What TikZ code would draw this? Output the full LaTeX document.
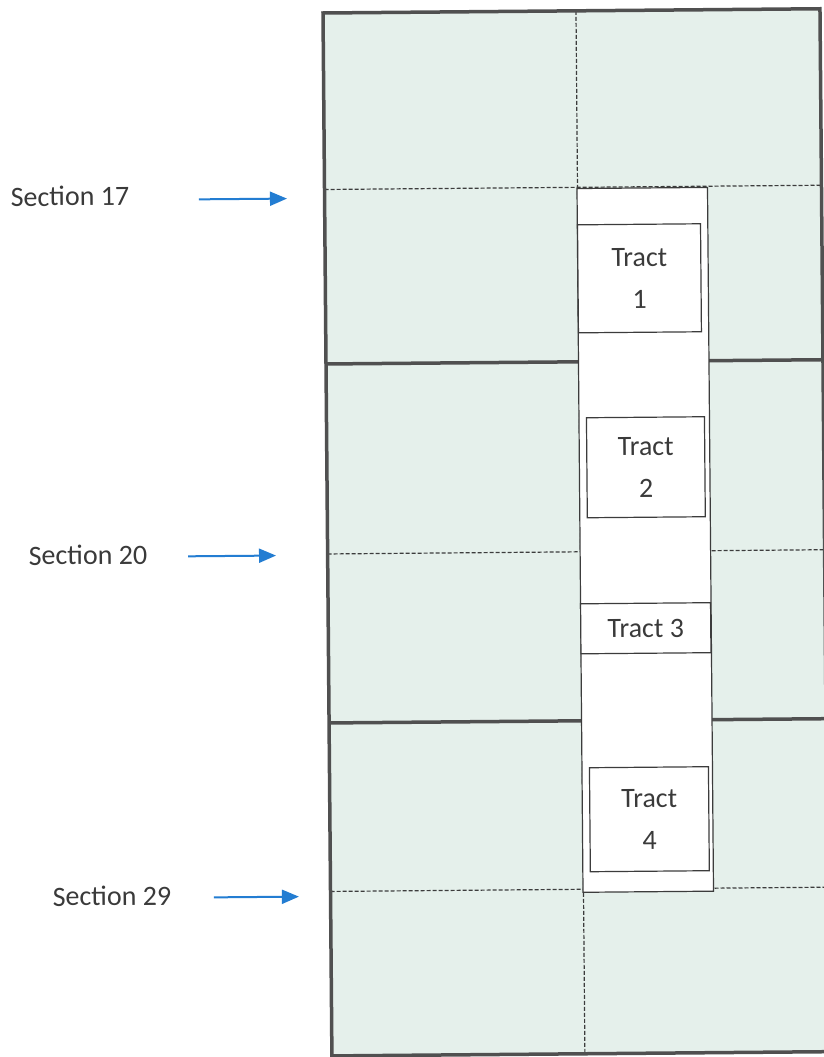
\documentclass[tikz,border=0pt]{standalone}
\usepackage{fontspec}
\setmainfont{Carlito}
\usetikzlibrary{arrows.meta}
\definecolor{mint}{RGB}{229,240,235}
\definecolor{framegray}{RGB}{80,80,80}
\definecolor{linegray}{RGB}{60,60,60}
\definecolor{txtgray}{RGB}{58,58,58}
\definecolor{arrowblue}{RGB}{35,125,210}
\begin{document}
\begin{tikzpicture}[x=1pt,y=-1pt,
  gridthin/.style={draw=linegray,line width=1.2pt,dash pattern=on 4pt off 2pt},
  gridheavy/.style={draw=framegray,line width=3.5pt},
  stripbox/.style={draw=linegray,line width=1.2pt,fill=white},
  tract/.style={draw=linegray,line width=1.2pt,fill=white,align=center,
    inner sep=0pt,text=txtgray,font=\fontsize{28}{42}\selectfont},
  sectlabel/.style={text=txtgray,inner sep=0pt,font=\fontsize{28}{34}\selectfont},
  secarrow/.style={draw=arrowblue,line width=2pt,-{Triangle[length=17pt,width=14pt]}}]
\useasboundingbox (0,0) rectangle (823,1057);
\fill[white] (0,0) rectangle (823,1057);
\begin{scope}[rotate around={0.49:(323,13)},transform shape]
  % background field
  \fill[mint] (323,13) rectangle (820,1056);
  % quarter-section dashed lines
  \draw[gridthin] (323,189.5) -- (820,189.5);
  \draw[gridthin] (323,554) -- (820,554);
  \draw[gridthin] (323,891.5) -- (820,891.5);
  \draw[gridthin] (576,13) -- (576,1056);
  % section lines
  \draw[gridheavy] (323,364) -- (820,364);
  \draw[gridheavy] (323,723) -- (820,723);
  % strip
  \draw[stripbox] (575.5,190.7) rectangle (706,894.5);
  % tracts
  \node[tract,minimum width=123pt,minimum height=108pt] (t1) at (637.2,281) {Tract\\1};
  \node[tract,minimum width=118pt,minimum height=100pt] (t2) at (642,470) {Tract\\2};
  \node[tract,minimum width=130pt,minimum height=50pt] (t3) at (640.5,631) {Tract 3};
  \node[tract,minimum width=119pt,minimum height=104pt] (t4) at (642.5,822) {Tract\\4};
  % outer frame
  \draw[framegray,line width=3.5pt] (323,13) rectangle (820,1056);
  % labels and arrows
  \node[sectlabel] (s17) at (68.4,194) {Section 17};
  \node[sectlabel] (s20) at (83.3,553) {Section 20};
  \node[sectlabel] (s29) at (104.4,894.2) {Section 29};
  \coordinate (a17s) at (197.4,198.3);
  \coordinate (a17e) at (285.4,198.3);
  \coordinate (a20s) at (183.4,555.2);
  \coordinate (a20e) at (271.4,555.2);
  \coordinate (a29s) at (206.4,896.5);
  \coordinate (a29e) at (291.4,896.5);
  \draw[secarrow] (a17s) -- (a17e);
  \draw[secarrow] (a20s) -- (a20e);
  \draw[secarrow] (a29s) -- (a29e);
\end{scope}
\end{tikzpicture}
\end{document}
